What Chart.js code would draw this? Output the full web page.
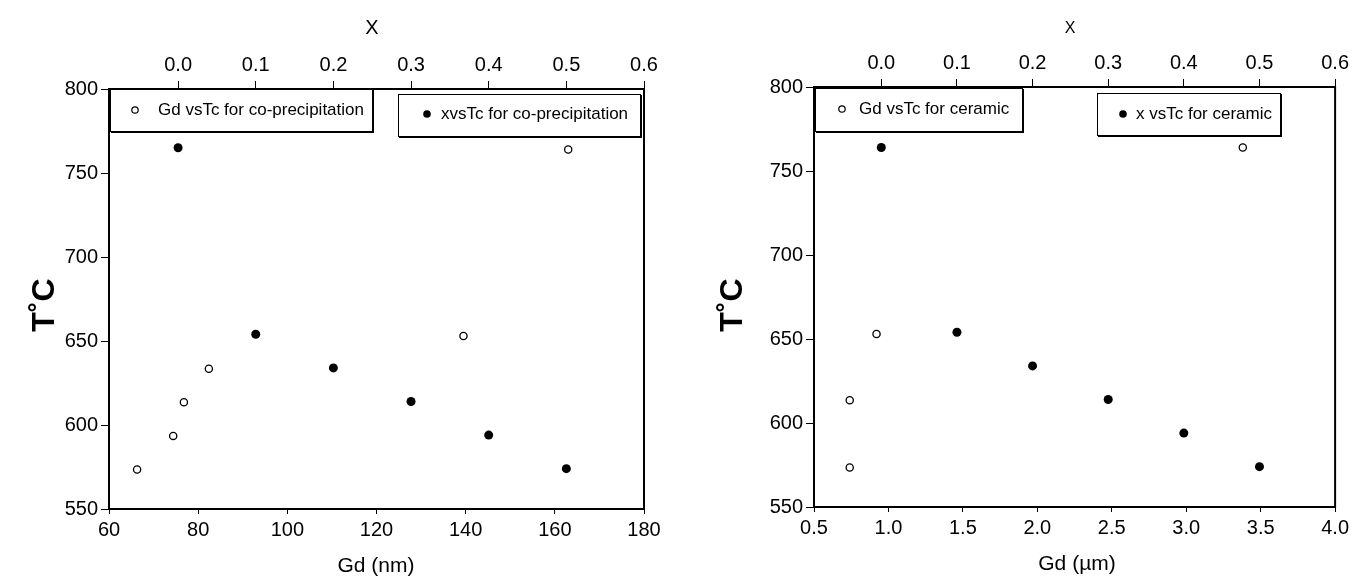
<!DOCTYPE html>
<html>
<head>
<meta charset="utf-8">
<script src="https://cdn.jsdelivr.net/npm/chart.js@4"></script>
<style>
  html, body { margin: 0; padding: 0; background: #fff; }
  #wrap { position: relative; width: 1353px; height: 578px; }
  canvas { position: absolute; top: 0; }
  #c1 { left: 0; }
  #c2 { left: 676px; }
</style>
</head>
<body>
<div id="wrap">
  <canvas id="c1" width="676" height="578"></canvas>
  <canvas id="c2" width="677" height="578"></canvas>
</div>
<script>
// Left panel: co-precipitation
const copGd = [66.3, 74.4, 76.8, 82.4, 139.5, 163];
const copGdTc = [573.5, 593.5, 613.5, 633.5, 653, 764];
const copX = [0.0, 0.1, 0.2, 0.3, 0.4, 0.5];
const copXTc = [765, 654, 634, 614, 594, 574];

// Right panel: ceramic
const cerGd = [0.74, 0.74, 0.92, 3.38];
const cerGdTc = [573.5, 613.5, 653, 764];
const cerX = [0.0, 0.1, 0.2, 0.3, 0.4, 0.5];
const cerXTc = [764, 654, 634, 614, 594, 574];

// Tick labels
const tcTicks = [550, 600, 650, 700, 750, 800];
const xTicks = [0.0, 0.1, 0.2, 0.3, 0.4, 0.5, 0.6];
const nmTicks = [60, 80, 100, 120, 140, 160, 180];
const umTicks = [0.5, 1.0, 1.5, 2.0, 2.5, 3.0, 3.5, 4.0];

const FONT = "'Liberation Sans', Arial, sans-serif";

function pts(xs, ys) { return xs.map((v, i) => ({ x: v, y: ys[i] })); }

// frame, legend boxes and axis titles
const decorPlugin = {
  id: 'decor',
  afterDraw(chart) {
    const o = chart.options.plugins.decor;
    const ctx = chart.ctx, a = chart.chartArea;
    ctx.save();
    ctx.strokeStyle = '#000';
    ctx.lineWidth = 2;
    ctx.strokeRect(a.left, a.top, a.right - a.left, a.bottom - a.top);

    for (const b of o.boxes) {
      ctx.fillStyle = '#fff';
      ctx.fillRect(b.x0, b.y0, b.x1 - b.x0, b.y1 - b.y0);
      ctx.lineWidth = 1;
      ctx.strokeRect(b.x0 + 0.5, b.y0 + 0.5, b.x1 - b.x0, b.y1 - b.y0);
      ctx.lineWidth = 2;
      ctx.beginPath();
      ctx.moveTo(b.x1 + 1, b.y0 + 1);
      ctx.lineTo(b.x1 + 1, b.y1 + 1);
      ctx.lineTo(b.x0 + 1, b.y1 + 1);
      ctx.stroke();
      // marker
      ctx.beginPath();
      ctx.arc(b.mx, b.my, b.filled ? 3.8 : 3.2, 0, Math.PI * 2);
      if (b.filled) { ctx.fillStyle = '#000'; ctx.fill(); }
      else { ctx.lineWidth = 1.2; ctx.stroke(); }
      ctx.fillStyle = '#000';
      ctx.font = o.legendFont;
      ctx.textAlign = 'left';
      ctx.textBaseline = 'middle';
      ctx.fillText(b.text, b.tx, b.my);
    }

    ctx.fillStyle = '#000';
    ctx.textAlign = 'center';
    ctx.textBaseline = 'middle';
    ctx.font = o.topTitle.font;
    ctx.fillText(o.topTitle.text, o.topTitle.x, o.topTitle.y);
    ctx.font = o.bottomTitle.font;
    ctx.fillText(o.bottomTitle.text, o.bottomTitle.x, o.bottomTitle.y);
    ctx.translate(o.yTitle.x, o.yTitle.y);
    ctx.rotate(-Math.PI / 2);
    ctx.font = o.yTitle.font;
    ctx.fillText(o.yTitle.text, 0, 0);
    ctx.restore();
  }
};

function makeChart(id, o) {
  return new Chart(document.getElementById(id), {
    type: 'scatter',
    data: {
      datasets: [
        { label: o.boxes[0].text, data: pts(o.gd, o.gdTc), xAxisID: 'x', yAxisID: 'y',
          pointRadius: 3.6, pointBackgroundColor: '#fff', pointBorderColor: '#000', pointBorderWidth: 1.3 },
        { label: o.boxes[1].text, data: pts(o.xv, o.xTc), xAxisID: 'x2', yAxisID: 'y',
          pointRadius: 4.5, pointBackgroundColor: '#000', pointBorderColor: '#000', pointBorderWidth: 0 }
      ]
    },
    options: {
      responsive: false,
      animation: false,
      layout: { padding: { left: 0, right: o.padRight, top: 0, bottom: 0 } },
      plugins: { legend: { display: false }, tooltip: { enabled: false }, decor: o },
      scales: {
        x: {
          type: 'linear', position: 'bottom', min: o.bMin, max: o.bMax,
          afterBuildTicks: s => { s.ticks = o.bTicks.map(v => ({ value: v })); },
          afterFit: s => { s.height = o.bottomH; },
          ticks: { color: '#000', font: { family: FONT, size: 20 }, padding: 4, maxRotation: 0, autoSkip: false,
                   callback: v => v.toFixed(o.bDec) },
          grid: { drawOnChartArea: false, tickLength: 5, color: '#000', lineWidth: 1 },
          border: { color: '#000', width: 2 }
        },
        x2: {
          type: 'linear', position: 'top', min: -0.089, max: 0.6,
          afterBuildTicks: s => { s.ticks = xTicks.map(v => ({ value: v })); },
          afterFit: s => { s.height = o.topH; },
          ticks: { color: '#000', font: { family: FONT, size: 20 }, padding: 4, maxRotation: 0, autoSkip: false,
                   callback: v => v.toFixed(1) },
          grid: { drawOnChartArea: false, tickLength: 8, color: '#000', lineWidth: 1 },
          border: { color: '#000', width: 2 }
        },
        y: {
          type: 'linear', position: 'left', min: 550, max: 800,
          afterBuildTicks: s => { s.ticks = tcTicks.map(v => ({ value: v })); },
          afterFit: s => { s.width = o.leftW; },
          ticks: { color: '#000', font: { family: FONT, size: 20 }, padding: 3 },
          grid: { drawOnChartArea: false, tickLength: 8, color: '#000', lineWidth: 1 },
          border: { color: '#000', width: 2 }
        }
      }
    },
    plugins: [decorPlugin]
  });
}

makeChart('c1', {
  gd: copGd, gdTc: copGdTc, xv: copX, xTc: copXTc,
  bMin: 60, bMax: 180, bTicks: nmTicks, bDec: 0,
  leftW: 109, topH: 89, bottomH: 69, padRight: 32,
  legendFont: '17px ' + FONT,
  boxes: [
    { x0: 110, y0: 89, x1: 372, y1: 131, mx: 135, my: 110, tx: 158, filled: false, text: 'Gd vsTc for co-precipitation' },
    { x0: 398, y0: 94, x1: 640, y1: 136, mx: 427, my: 114, tx: 441, filled: true, text: 'xvsTc for co-precipitation' }
  ],
  topTitle: { text: 'X', x: 372, y: 28, font: '20px ' + FONT },
  bottomTitle: { text: 'Gd (nm)', x: 376, y: 566, font: '21px ' + FONT },
  yTitle: { text: 'T˚C', x: 45, y: 305, font: 'bold 32px ' + FONT }
});

makeChart('c2', {
  gd: cerGd, gdTc: cerGdTc, xv: cerX, xTc: cerXTc,
  bMin: 0.5, bMax: 4.0, bTicks: umTicks, bDec: 1,
  leftW: 138, topH: 87, bottomH: 71, padRight: 15,
  legendFont: '17px ' + FONT,
  boxes: [
    { x0: 139, y0: 88, x1: 346, y1: 131, mx: 166, my: 109, tx: 183, filled: false, text: 'Gd vsTc for ceramic' },
    { x0: 421, y0: 93, x1: 604, y1: 135, mx: 447, my: 114, tx: 460, filled: true, text: 'x vsTc for ceramic' }
  ],
  topTitle: { text: 'X', x: 394, y: 29, font: '16px ' + FONT },
  bottomTitle: { text: 'Gd (µm)', x: 401, y: 564, font: '21px ' + FONT },
  yTitle: { text: 'T˚C', x: 57, y: 305, font: 'bold 32px ' + FONT }
});
</script>
</body>
</html>
